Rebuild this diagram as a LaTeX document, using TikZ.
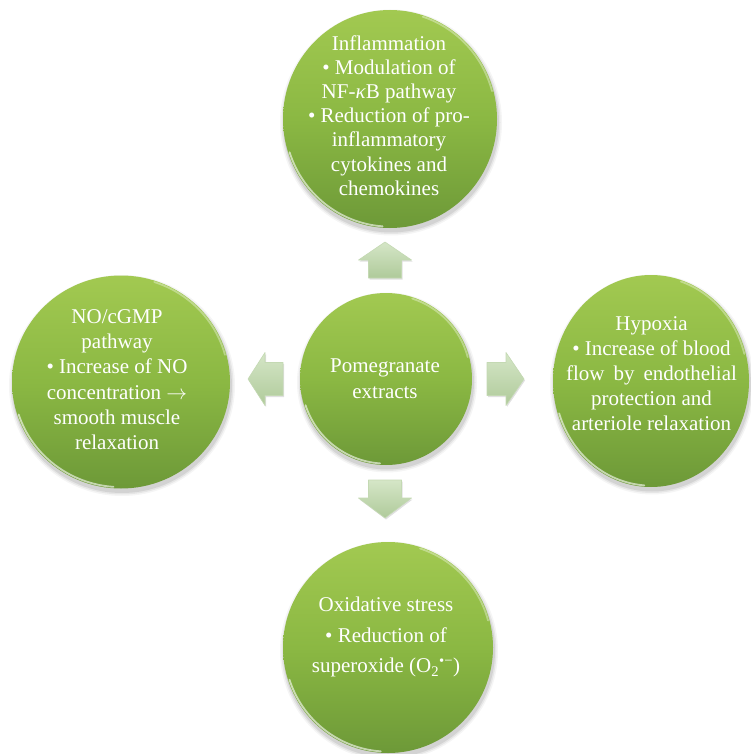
\documentclass[tikz,border=0pt]{standalone}
\usepackage{fontspec}
\setmainfont{Liberation Serif}
\usetikzlibrary{shapes.geometric,calc}
\definecolor{gtop}{HTML}{A2C951}
\definecolor{gmid}{HTML}{8BB843}
\definecolor{gbot}{HTML}{6D9938}
\definecolor{atop}{HTML}{D5E6C7}
\definecolor{abot}{HTML}{AFCA9A}
\definecolor{aedge}{HTML}{C4D9B3}
\tikzset{
  bubble/.style={ellipse, inner sep=0pt, draw=none, top color=gtop, bottom color=gbot, middle color=gmid},
  rim/.style={white, line width=1.8pt, opacity=0.6, line cap=round},
  txt/.style={text=white, align=center, inner sep=0pt, anchor=north},
  blockarrow/.style={top color=atop, bottom color=abot, draw=aedge, line width=0.6pt, line join=round,
    preaction={fill=black, opacity=0.12, transform canvas={xshift=1pt, yshift=-1.5pt}}},
}
\newcommand\mybubble[5]{%
  \foreach \k/\o in {4/0.04,2.5/0.06,1/0.08}{%
    \fill[black, opacity=\o] ({#2+1},{#3+3.5}) ellipse [x radius={#4pt+\k pt}, y radius={#5pt+\k pt}];
  }%
  \node[bubble, minimum width={2*#4pt}, minimum height={2*#5pt}] (#1) at (#2,#3) {};
  \pgfmathsetmacro\rrx{#4-1.4}%
  \pgfmathsetmacro\rry{#5-1.4}%
  \draw[rim] ($(#1.center)+(198:\rrx pt and \rry pt)$) arc[start angle=198, end angle=266, x radius=\rrx pt, y radius=\rry pt];
  \draw[rim, opacity=0.35] ($(#1.center)+(15:\rrx pt and \rry pt)$) arc[start angle=15, end angle=72, x radius=\rrx pt, y radius=\rry pt];
}
\begin{document}
\begin{tikzpicture}[x=1pt, y=-1pt]
\useasboundingbox (0,0) rectangle (750,754);
\fill[white] (0,0) rectangle (750,754);

% circles
\mybubble{top}{390}{119}{107}{109}
\mybubble{left}{121}{382}{109}{106.5}
\mybubble{right}{651}{381}{98}{106}
\mybubble{bottom}{388}{647.5}{105}{105.5}
\mybubble{center}{386}{379}{86}{86}

% block arrows
\coordinate (aup) at (385,260);
\coordinate (adown) at (385,499);
\coordinate (aleft) at (265.5,379);
\coordinate (aright) at (505.5,379);
\path[blockarrow] (368.5,278) -- (368.5,260) -- (358.5,260) -- (385,242) -- (411.5,260) -- (401.5,260) -- (401.5,278) -- cycle;
\path[blockarrow] (368.5,480) -- (368.5,498) -- (358.5,498) -- (385,518) -- (411.5,498) -- (401.5,498) -- (401.5,480) -- cycle;
\path[blockarrow] (283,362.5) -- (265,362.5) -- (265,352.5) -- (248,379) -- (265,405.5) -- (265,395.5) -- (283,395.5) -- cycle;
\path[blockarrow] (487,362.5) -- (506,362.5) -- (506,352.5) -- (524,379) -- (506,405.5) -- (506,395.5) -- (487,395.5) -- cycle;

% texts
\node[txt, font=\fontsize{21}{24.2}\selectfont] (toptxt) at (389,33)
  {\rule{0pt}{17pt}Inflammation\\
   \textbullet\ Modulation of\\
   NF-\textit{κ}B pathway\\
   \textbullet\ Reduction of pro-\\
   inflammatory\\
   cytokines and\\
   chemokines};
\node[txt, font=\fontsize{21}{25.2}\selectfont] (lefttxt) at (117,306.3)
  {\rule{0pt}{17pt}NO/cGMP\\
   pathway\\
   \textbullet\ Increase of NO\\
   concentration $\rightarrow$\\
   smooth muscle\\
   relaxation};
\node[txt, font=\fontsize{21}{25}\selectfont] (righttxt) at (651.5,313)
  {\rule{0pt}{17pt}Hypoxia\\
   \textbullet\ Increase of blood\\
   flow\hspace{9pt}by\hspace{9pt}endothelial\\
   protection and\\
   arteriole relaxation};
\node[txt, font=\fontsize{21}{30.5}\selectfont] (bottomtxt) at (386,594.7)
  {\rule{0pt}{17pt}Oxidative stress\\
   \textbullet\ Reduction of\\
   superoxide (O\textsubscript{2}\textsuperscript{•−})};
\node[txt, font=\fontsize{21}{25.6}\selectfont] (centertxt) at (385,355.7)
  {\rule{0pt}{17pt}Pomegranate\\
   extracts};
\end{tikzpicture}
\end{document}
